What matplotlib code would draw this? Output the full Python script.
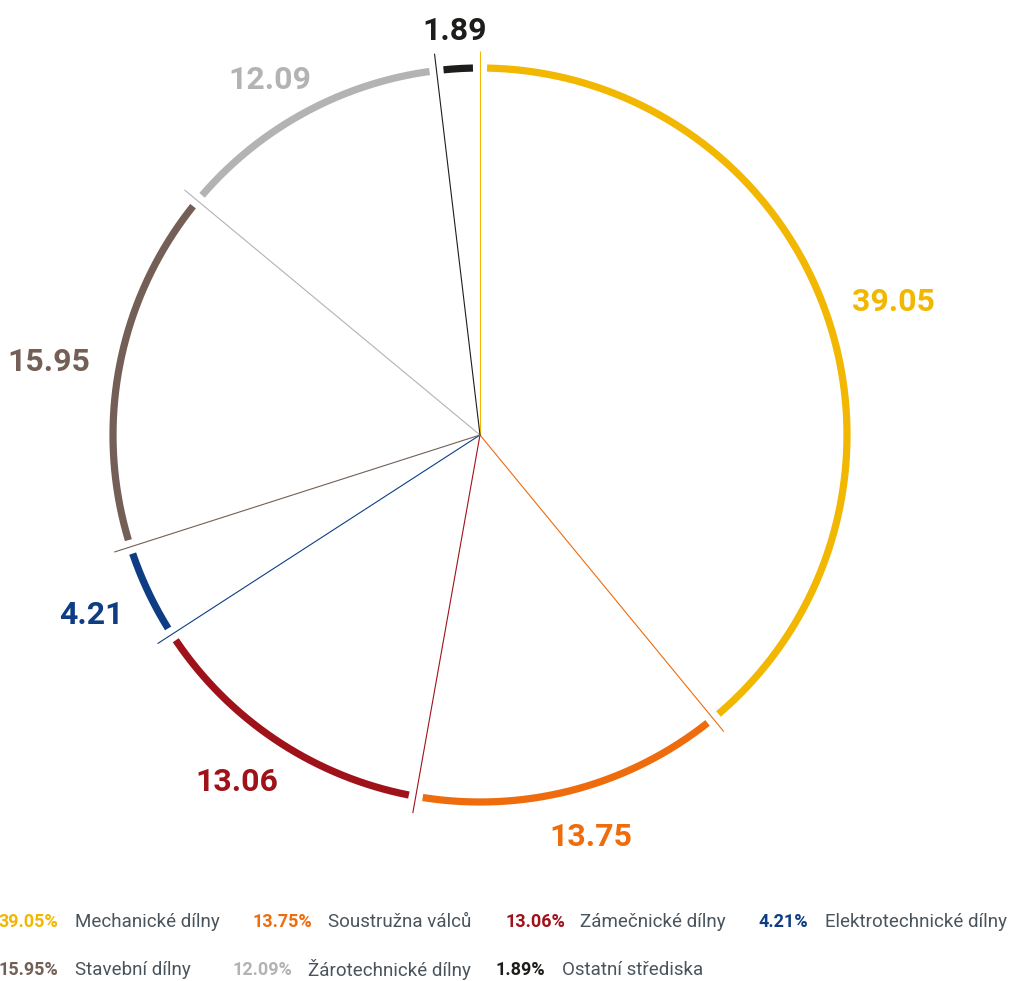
import matplotlib.pyplot as plt
import numpy as np

# data
names = ['Mechanické dílny', 'Soustružna válců', 'Zámečnické dílny', 'Elektrotechnické dílny',
         'Stavební dílny', 'Žárotechnické dílny', 'Ostatní střediska']
values = [39.05, 13.75, 13.06, 4.21, 15.95, 12.09, 1.89]
colors = ['#f2b700', '#ee6c0c', '#a0121a', '#0e3d84', '#735f55', '#b3b3b3', '#1d1d1b']

plt.rcParams['font.family'] = ['Roboto', 'DejaVu Sans']

fig = plt.figure(figsize=(10.14, 9.81), dpi=100)
ax = fig.add_axes([0, 0, 1, 1])
ax.set_xlim(0, 1014)
ax.set_ylim(981, 0)
ax.set_aspect('equal')
ax.axis('off')

cx, cy = 480, 435
r_arc, r_line, r_lab = 367, 384, 394
gap = 1.1

def pt(r, deg):
    a = np.radians(deg)
    return cx + r * np.sin(a), cy - r * np.cos(a)

total = sum(values)
start = 0.0
for v, c in zip(values, colors):
    span = v / total * 360
    end = start + span
    # radial line at slice start
    x1, y1 = pt(r_line, start)
    ax.plot([cx, x1], [cy, y1], color=c, lw=0.8, solid_capstyle='butt')
    # rim arc
    th = np.linspace(start + gap, end - gap, 200)
    xs, ys = pt(r_arc, th)
    ax.plot(xs, ys, color=c, lw=5.2, solid_capstyle='butt')
    # value label, pushed out by half its box
    txt = f'{v:.2f}'
    mid = np.radians(start + span / 2)
    lx, ly = pt(r_lab, start + span / 2)
    hw, hh = 9 * len(txt), 16
    ax.text(lx + hw * np.sin(mid), ly - hh * np.cos(mid) + 5, txt, color=c,
            fontsize=23, fontweight='bold', ha='center', va='center')
    start = end

# legend
pct_right = [58, 312, 565, 808, 58, 292, 545]
name_left = [75, 328, 580, 825, 75, 308, 562]
rows = [922, 922, 922, 922, 970, 970, 970]
for v, c, n, pr, nl, ry in zip(values, colors, names, pct_right, name_left, rows):
    ax.text(pr, ry, f'{v:.2f}%', color=c, fontsize=13, fontweight='bold',
            ha='right', va='center')
    ax.text(nl, ry, n, color='#4a545c', fontsize=13.5, ha='left', va='center')

fig.savefig('out.png', dpi=100)
